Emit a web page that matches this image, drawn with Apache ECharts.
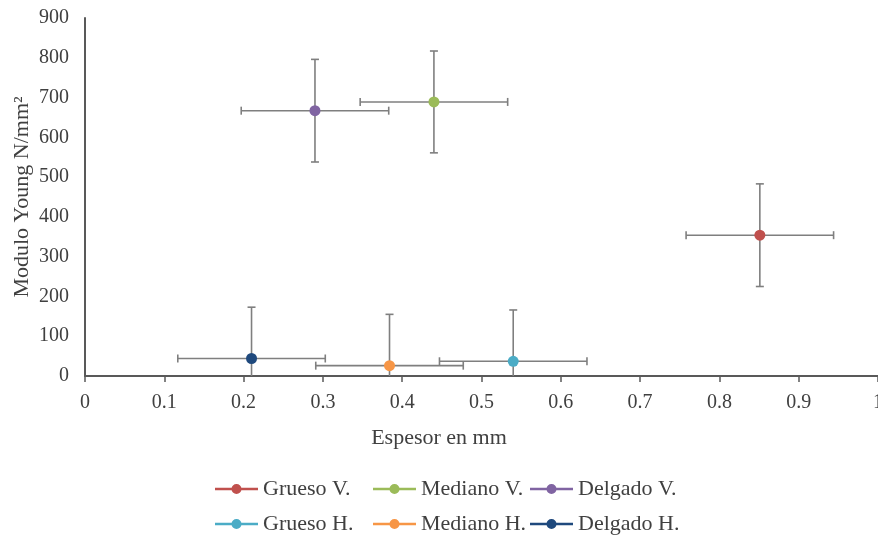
<!DOCTYPE html>
<html><head><meta charset="utf-8">
<script src="https://cdn.jsdelivr.net/npm/echarts@6/dist/echarts.min.js"></script>
<style>html,body{margin:0;padding:0;background:#fff}#c{width:878px;height:538px}</style>
</head><body><div id="c"></div>
<script>
const seriesNames = ['Grueso V.', 'Mediano V.', 'Delgado V.', 'Grueso H.', 'Mediano H.', 'Delgado H.'];
const xValues = [0.851, 0.440, 0.290, 0.540, 0.384, 0.210];
const yValues = [354, 689, 667, 37, 26, 44];
const xErrors = [0.093, 0.093, 0.093, 0.093, 0.093, 0.093];
const yErrors = [129, 128, 129, 129, 129, 129];
const colors = ['#C0504D', '#9BBB59', '#8064A2', '#4BACC6', '#F79646', '#1F497D'];
const xTicks = [0, 0.1, 0.2, 0.3, 0.4, 0.5, 0.6, 0.7, 0.8, 0.9, 1];
const yTicks = [0, 100, 200, 300, 400, 500, 600, 700, 800, 900];

const FONT = 'Liberation Serif';
const TXT = '#404040';
const chart = echarts.init(document.getElementById('c'), null, {renderer: 'canvas'});

const legendIcon = 'path://M0,3.75 L43,3.75 L43,6.25 L0,6.25 Z M21.5,0 A5,5 0 1,1 21.5,10 A5,5 0 1,1 21.5,0 Z';
const legendPos = [[215, 478], [373, 478], [530, 478], [215, 513], [373, 513], [530, 513]];
const legends = seriesNames.map((n, i) => ({
  data: [n], left: legendPos[i][0], top: legendPos[i][1],
  icon: legendIcon, itemWidth: 43, itemHeight: 10, itemGap: 0, padding: 0,
  selectedMode: false,
  textStyle: {fontFamily: FONT, fontSize: 22, color: TXT}
}));

const errData = seriesNames.map((n, i) => [xValues[i], yValues[i], xErrors[i], yErrors[i]]);

function renderErr(params, api) {
  const cs = params.coordSys;
  const x = api.value(0), y = api.value(1), ex = api.value(2), ey = api.value(3);
  const c = api.coord([x, y]);
  const l = api.coord([x - ex, y]);
  const r = api.coord([x + ex, y]);
  const t = api.coord([x, y + ey]);
  const b = api.coord([x, y - ey]);
  const bottom = cs.y + cs.height;
  const top = cs.y;
  const cap = 4;
  const style = {stroke: '#7F7F7F', lineWidth: 1.6, fill: null};
  const ch = [];
  const ty = Math.max(t[1], top), by = Math.min(b[1], bottom);
  ch.push({type: 'line', shape: {x1: c[0], y1: ty, x2: c[0], y2: by}, style});
  if (t[1] >= top) ch.push({type: 'line', shape: {x1: c[0] - cap, y1: t[1], x2: c[0] + cap, y2: t[1]}, style});
  if (b[1] <= bottom) ch.push({type: 'line', shape: {x1: c[0] - cap, y1: b[1], x2: c[0] + cap, y2: b[1]}, style});
  ch.push({type: 'line', shape: {x1: l[0], y1: c[1], x2: r[0], y2: c[1]}, style});
  ch.push({type: 'line', shape: {x1: l[0], y1: c[1] - cap, x2: l[0], y2: c[1] + cap}, style});
  ch.push({type: 'line', shape: {x1: r[0], y1: c[1] - cap, x2: r[0], y2: c[1] + cap}, style});
  return {type: 'group', children: ch};
}

const series = [{
  type: 'custom', name: 'err', renderItem: renderErr, data: errData, z: 1, silent: true,
  encode: {x: 0, y: 1}
}].concat(seriesNames.map((n, i) => ({
  type: 'scatter', name: n, data: [[xValues[i], yValues[i]]],
  symbol: 'circle', symbolSize: 11, z: 3,
  itemStyle: {color: colors[i], opacity: 1}
})));

chart.setOption({
  animation: false,
  color: colors,
  grid: {left: 85, right: 0, top: 18, bottom: 162, containLabel: false, outerBoundsMode: 'none'},
  legend: legends,
  xAxis: {
    type: 'value', min: xTicks[0], max: xTicks[xTicks.length - 1], interval: 0.1,
    axisLine: {show: true, onZero: false, lineStyle: {color: '#595959', width: 2}},
    axisTick: {show: true, length: 6, inside: false, lineStyle: {color: '#595959', width: 1.5}},
    splitLine: {show: false},
    axisLabel: {fontFamily: FONT, fontSize: 20, color: TXT, margin: 17}
  },
  yAxis: {
    type: 'value', min: yTicks[0], max: yTicks[yTicks.length - 1], interval: 100,
    axisLine: {show: true, lineStyle: {color: '#595959', width: 2}},
    axisTick: {show: false},
    splitLine: {show: false},
    axisLabel: {fontFamily: FONT, fontSize: 20, color: TXT, margin: 16},
    name: 'Modulo Young N/mm²', nameLocation: 'middle', nameGap: 52, nameRotate: 90,
    nameMoveOverlap: false,
    nameTextStyle: {fontFamily: FONT, fontSize: 22, color: TXT}
  },
  graphic: [{
    type: 'text', left: 'center', top: 427,
    style: {text: 'Espesor en mm', font: '22px "Liberation Serif"', fill: TXT}
  }],
  series
});
</script></body></html>
